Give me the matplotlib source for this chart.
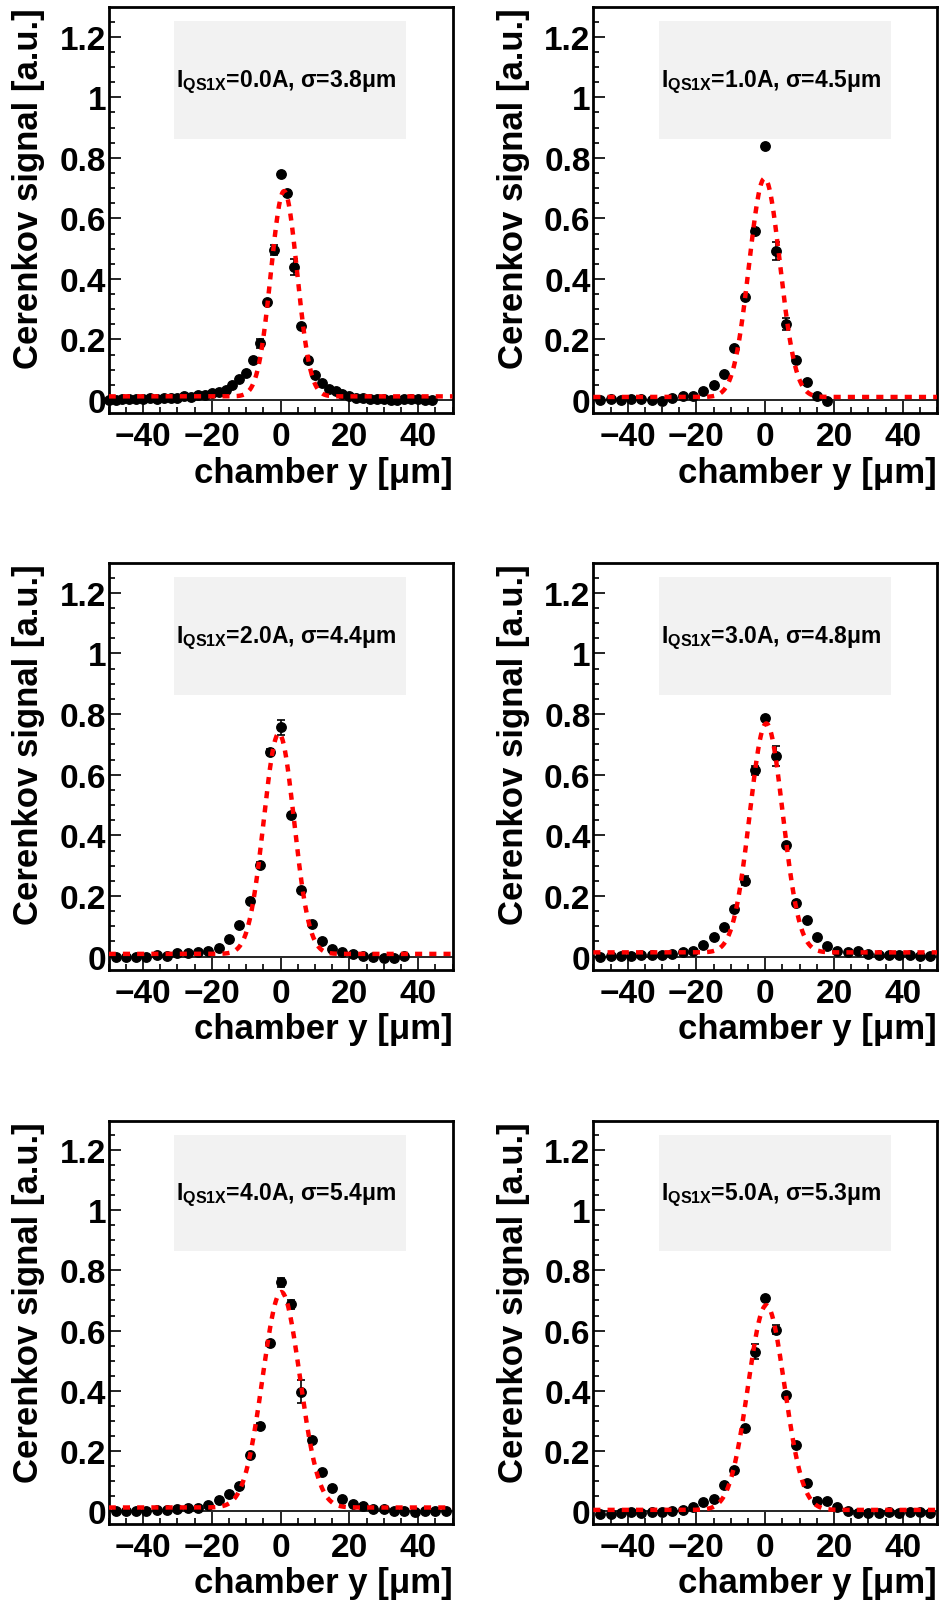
import numpy as np
import matplotlib
matplotlib.use("Agg")
import matplotlib.pyplot as plt
from matplotlib.ticker import MultipleLocator, FuncFormatter
from matplotlib.patches import Rectangle

plt.rcParams["font.family"] = ["Liberation Sans", "DejaVu Sans"]
plt.rcParams["font.weight"] = "bold"
plt.rcParams["mathtext.fontset"] = "custom"
plt.rcParams["mathtext.rm"] = "Liberation Sans:bold"
plt.rcParams["mathtext.bf"] = "Liberation Sans:bold"
plt.rcParams["mathtext.it"] = "Liberation Sans:bold"

# ---- measured scans: chamber position y [um] vs Cerenkov signal ----
currents = ["0.0", "1.0", "2.0", "3.0", "4.0", "5.0"]
sigmas = [3.8, 4.5, 4.4, 4.8, 5.4, 5.3]

y_qs0 = list(range(-50, 45, 2))
s_qs0 = [0.000, 0.000, 0.002, 0.003, 0.002, 0.004, 0.005, 0.003, 0.006, 0.008,
         0.005, 0.012, 0.010, 0.015, 0.018, 0.022, 0.025, 0.032, 0.048, 0.068,
         0.088, 0.132, 0.188, 0.323, 0.495, 0.747, 0.684, 0.440, 0.245, 0.132,
         0.082, 0.055, 0.037, 0.030, 0.020, 0.012, 0.008, 0.006, 0.004, 0.004,
         0.002, 0.000, 0.001, 0.002, 0.004, 0.002, 0.000, 0.000]
e_qs0 = {-6: 0.015, -2: 0.017, 2: 0.010, 4: 0.027}

y_qs1 = list(range(-48, 19, 3))
s_qs1 = [0.000, 0.002, 0.000, 0.002, 0.002, 0.000, -0.002, 0.005, 0.012, 0.012,
         0.031, 0.051, 0.086, 0.171, 0.339, 0.557, 0.838, 0.493, 0.251, 0.132,
         0.058, 0.014, -0.004]
e_qs1 = {3: 0.030, 6: 0.020, -3: 0.010}

y_qs2 = list(range(-48, 37, 3))
s_qs2 = [0.000, 0.000, 0.000, 0.000, 0.005, 0.003, 0.012, 0.012, 0.015, 0.020,
         0.029, 0.059, 0.103, 0.185, 0.301, 0.676, 0.756, 0.466, 0.220, 0.108,
         0.053, 0.025, 0.015, 0.008, 0.003, 0.000, -0.003, -0.005, 0.003]
e_qs2 = {0: 0.025, -3: 0.010, -6: 0.010}

y_qs3 = list(range(-48, 49, 3))
s_qs3 = [0.000, 0.002, 0.002, 0.002, 0.004, 0.004, 0.007, 0.009, 0.016, 0.020,
         0.039, 0.064, 0.097, 0.158, 0.251, 0.615, 0.786, 0.662, 0.367, 0.178,
         0.121, 0.064, 0.034, 0.018, 0.015, 0.018, 0.009, 0.006, 0.006, 0.004,
         0.004, 0.002, 0.002]
e_qs3 = {3: 0.034, -3: 0.015, -6: 0.015}

y_qs4 = list(range(-48, 49, 3))
s_qs4 = [0.000, 0.000, 0.000, 0.002, 0.004, 0.004, 0.007, 0.010, 0.012, 0.021,
         0.038, 0.056, 0.085, 0.186, 0.284, 0.557, 0.761, 0.688, 0.397, 0.235,
         0.130, 0.078, 0.039, 0.022, 0.016, 0.007, 0.007, 0.000, 0.002, -0.003,
         0.000, 0.000, 0.000]
e_qs4 = {6: 0.039, 0: 0.015, 3: 0.015, -6: 0.010}

y_qs5 = list(range(-48, 49, 3))
s_qs5 = [-0.008, -0.008, -0.006, -0.004, -0.005, -0.004, -0.003, 0.000, 0.004, 0.014,
         0.029, 0.040, 0.086, 0.136, 0.275, 0.529, 0.707, 0.602, 0.385, 0.219,
         0.095, 0.034, 0.032, 0.015, 0.002, -0.005, -0.006, -0.006, -0.004, -0.005,
         -0.004, -0.004, -0.005]
e_qs5 = {-3: 0.025, 3: 0.015, 15: 0.010}

# Gaussian + constant fit parameters (mean, amplitude, offset); widths from sigmas
fit_mean = [1.0, -0.2, -0.5, 0.3, 0.2, 0.3]
fit_amp = [0.678, 0.722, 0.727, 0.755, 0.716, 0.680]
fit_const = [0.012, 0.010, 0.009, 0.014, 0.012, 0.004]

scans = [(y_qs0, s_qs0, e_qs0), (y_qs1, s_qs1, e_qs1), (y_qs2, s_qs2, e_qs2),
         (y_qs3, s_qs3, e_qs3), (y_qs4, s_qs4, e_qs4), (y_qs5, s_qs5, e_qs5)]

fig = plt.figure(figsize=(9.4, 16.06), dpi=100)
lefts = [0.1156, 0.6312]
width = 0.3658
bottoms = [0.7422, 0.3956, 0.0504]
heights = [0.2526, 0.2530, 0.2511]

xfine = np.linspace(-50, 50, 600)

for i, (ypos, sig, errs) in enumerate(scans):
    row, col = divmod(i, 2)
    ax = fig.add_axes([lefts[col], bottoms[row], width, heights[row]])
    ax.set_xlim(-50, 50)
    ax.set_ylim(-0.043, 1.297)

    # statistics box
    ax.add_patch(Rectangle((0.19, 0.676), 0.676, 0.29, transform=ax.transAxes,
                           facecolor="#f2f2f2", edgecolor="none", zorder=1))
    ax.text(0.517, 0.805,
            r"I$_{\mathbf{QS1X}}$=" + currents[i] + "A, σ=" + f"{sigmas[i]:.1f}" + "μm",
            transform=ax.transAxes, ha="center", va="baseline",
            fontsize=16.5, fontweight="bold", color="black", zorder=2)

    ax.axhline(0, color="black", lw=1.2, zorder=2)

    x = np.array(ypos, dtype=float)
    s = np.array(sig)
    e = np.array([errs.get(v, 0.004) for v in ypos])
    ax.errorbar(x, s, yerr=e, fmt="o", color="black", ms=6.8, elinewidth=1.2,
                capsize=3, capthick=1.2, zorder=3, clip_on=False)

    fit = fit_amp[i] * np.exp(-0.5 * ((xfine - fit_mean[i]) / sigmas[i]) ** 2) + fit_const[i]
    ax.plot(xfine, fit, color="#ff0000", lw=3.2, dashes=(1.6, 1.6),
            solid_capstyle="butt", dash_capstyle="butt", zorder=4)

    ax.xaxis.set_major_locator(MultipleLocator(20))
    ax.xaxis.set_minor_locator(MultipleLocator(5))
    ax.yaxis.set_major_locator(MultipleLocator(0.2))
    ax.yaxis.set_minor_locator(MultipleLocator(0.05))
    ax.yaxis.set_major_formatter(FuncFormatter(lambda v, p: f"{v:g}" if abs(v) > 1e-9 else "0"))

    ax.tick_params(axis="both", which="both", direction="in", top=False, right=False,
                   width=1.2, labelsize=24)
    ax.tick_params(axis="both", which="major", length=8.5)
    ax.tick_params(axis="both", which="minor", length=4.5)
    ax.tick_params(axis="y", which="major", pad=2)
    ax.tick_params(axis="x", which="major", pad=6)
    for lab in ax.get_xticklabels() + ax.get_yticklabels():
        lab.set_fontweight("bold")
    for sp in ax.spines.values():
        sp.set_linewidth(2.0)

    ax.set_ylabel("Cerenkov signal [a.u.]", fontsize=25, fontweight="bold", loc="top")
    ax.yaxis.set_label_coords(-0.185, 1.0)
    ax.set_xlabel("chamber y [μm]", fontsize=25, fontweight="bold", loc="right")
    ax.xaxis.set_label_coords(1.0, -0.169)
    ax.xaxis.label.set_va("baseline")

fig.savefig("out.png", dpi=100)
